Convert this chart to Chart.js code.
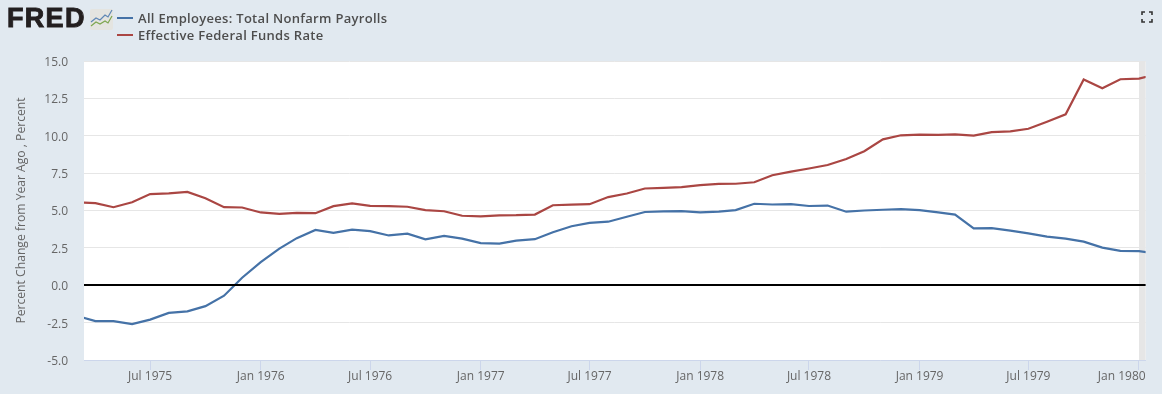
<!DOCTYPE html>
<html><head><meta charset="utf-8">
<script src="https://cdn.jsdelivr.net/npm/chart.js@4/dist/chart.umd.min.js"></script>
<style>
html,body{margin:0;padding:0;background:#e1e9f0;width:1162px;height:394px;overflow:hidden;font-family:"Open Sans",sans-serif}
#w{position:absolute;left:0;top:0;width:1162px;height:394px}
#logo{position:absolute;left:7px;top:3px;font:900 27px/31px "Liberation Sans",Arial,sans-serif;color:#231f20;letter-spacing:1.3px;-webkit-text-stroke:.9px #231f20}
#mini{position:absolute;left:90px;top:9px}
#fs{position:absolute;left:1141px;top:11px}
#legend{position:absolute;left:117px;top:10px;font:600 13px/17px "Open Sans",sans-serif;letter-spacing:.3px;color:#4d4d4d;white-space:nowrap}
#legend div{height:17px;position:relative;padding-left:21px}
#legend i{position:absolute;left:0;top:7px;width:16px;height:2px}
</style></head><body>
<div id="w"><canvas id="c" width="1162" height="394"></canvas></div>
<div id="logo">FRED</div>
<svg id="mini" width="23" height="21"><rect width="23" height="21" rx="2" fill="#e4e4e0"/><polyline points="1,13 6,9 10,11 15,6 18,8 22,1" fill="none" stroke="#5f87b5" stroke-width="1.2"/><polyline points="1,17 6,13 10,15 15,12 18,14 22,7" fill="none" stroke="#7da64f" stroke-width="1.2"/></svg>
<div id="legend"></div>
<svg id="fs" width="12" height="12" fill="none" stroke="#333" stroke-width="1.6"><path d="M1 4V1H4M8 1H11V4M11 8V11H8M4 11H1V8"/></svg>
<script>
const months=["1975-03","1975-04","1975-05","1975-06","1975-07","1975-08","1975-09","1975-10","1975-11","1975-12",
"1976-01","1976-02","1976-03","1976-04","1976-05","1976-06","1976-07","1976-08","1976-09","1976-10","1976-11","1976-12",
"1977-01","1977-02","1977-03","1977-04","1977-05","1977-06","1977-07","1977-08","1977-09","1977-10","1977-11","1977-12",
"1978-01","1978-02","1978-03","1978-04","1978-05","1978-06","1978-07","1978-08","1978-09","1978-10","1978-11","1978-12",
"1979-01","1979-02","1979-03","1979-04","1979-05","1979-06","1979-07","1979-08","1979-09","1979-10","1979-11","1979-12",
"1980-01","1980-02"];
const payrolls=[-2.05,-2.4,-2.4,-2.6,-2.3,-1.85,-1.75,-1.4,-0.7,0.5,
1.55,2.45,3.15,3.7,3.5,3.72,3.62,3.33,3.45,3.07,3.3,3.12,
2.82,2.78,2.98,3.08,3.55,3.95,4.17,4.25,4.58,4.9,4.94,4.96,
4.87,4.92,5.03,5.45,5.4,5.43,5.3,5.33,4.92,5.0,5.05,5.09,
5.02,4.88,4.73,3.8,3.82,3.65,3.47,3.25,3.12,2.92,2.52,2.3,
2.28,2.1];
const fedFunds=[5.55,5.49,5.22,5.55,6.1,6.14,6.24,5.82,5.22,5.2,
4.87,4.77,4.84,4.82,5.29,5.48,5.31,5.29,5.25,5.02,4.95,4.65,
4.61,4.68,4.69,4.73,5.35,5.39,5.42,5.9,6.14,6.47,6.51,6.56,
6.7,6.78,6.79,6.89,7.36,7.6,7.81,8.04,8.45,8.96,9.76,10.03,
10.07,10.06,10.09,10.01,10.24,10.29,10.47,10.94,11.43,13.77,13.18,13.78,
13.82,14.13];
const xTickLabels=["Jul 1975","Jan 1976","Jul 1976","Jan 1977","Jul 1977","Jan 1978","Jul 1978","Jan 1979","Jul 1979","Jan 1980"];
const xTickMonths=["1975-07","1976-01","1976-07","1977-01","1977-07","1978-01","1978-07","1979-01","1979-07","1980-01"];
const yTicks=[-5,-2.5,0,2.5,5,7.5,10,12.5,15];
const recessionStart="1980-01";
const xStart="1975-03-13", xEnd="1980-01-12";
const legendNames=["All Employees: Total Nonfarm Payrolls","Effective Federal Funds Rate"];
const colors=["#4572a7","#aa4643"];
document.getElementById('legend').innerHTML=legendNames.map((n,i)=>`<div><i style="background:${colors[i]}"></i>${n}</div>`).join('');
const t=s=>Date.parse(s.length===7?s+"-01T00:00:00Z":s+"T00:00:00Z");
const pts=a=>a.map((v,i)=>({x:t(months[i]),y:v}));
const band={id:'band',beforeDatasetsDraw(c){const {ctx,chartArea:a,scales:{x}}=c;ctx.save();ctx.fillStyle='#e6e6e6';
 const l=x.getPixelForValue(t(recessionStart));ctx.fillRect(l,a.top,a.right-l,a.bottom-a.top);ctx.restore();},
 afterDatasetsDraw(c){const {ctx,chartArea:a,scales:{y}}=c;ctx.save();ctx.strokeStyle='#000';ctx.lineWidth=2;const p=Math.round(y.getPixelForValue(0));ctx.beginPath();ctx.moveTo(a.left,p);ctx.lineTo(a.right,p);ctx.stroke();ctx.restore();}};
const bg={id:'bg',beforeDraw(c){const {ctx,chartArea:a,scales:{x,y}}=c;ctx.fillStyle='#fff';ctx.fillRect(a.left,a.top,a.width,a.height);
 const items=x.getLabelItems(a),last=items[items.length-1];
 if(last){last.options.textAlign='right';last.options.translation[0]=a.right;}
 y.getLabelItems(a).forEach(it=>{it.options.translation[1]+=1.5;});}};
new Chart(document.getElementById('c'),{type:'line',
 data:{datasets:[{label:legendNames[0],data:pts(payrolls),borderColor:colors[0],borderWidth:2.2,pointRadius:0,tension:0},
 {label:legendNames[1],data:pts(fedFunds),borderColor:colors[1],borderWidth:2.2,pointRadius:0,tension:0}]},
 plugins:[bg,band],
 options:{responsive:false,animation:false,
  layout:{padding:{top:61,left:0,right:16,bottom:0}},
  plugins:{tooltip:{enabled:false},legend:{display:false}},
  scales:{
   x:{type:'linear',min:t(xStart),max:t(xEnd),
    afterBuildTicks(s){s.ticks=xTickMonths.map(m=>({value:t(m)}));},
    afterFit(s){s.height=34;},
    grid:{drawOnChartArea:false,drawTicks:true,tickLength:10,color:'#ccd6eb'},
    border:{color:'#ccd6eb',width:1},
    ticks:{maxRotation:0,autoSkip:false,padding:-1,color:'#666',font:{family:'"Open Sans"',size:12},
     callback(v){const i=xTickMonths.findIndex(m=>t(m)===v);return i<0?'':xTickLabels[i];}}},
   y:{min:-5,max:15,
    afterBuildTicks(s){s.ticks=yTicks.map(v=>({value:v}));},
    afterFit(s){s.width=84;},
    grid:{color:'#e6e6e6',drawTicks:false},border:{display:false},
    title:{display:true,text:'Percent Change from Year Ago , Percent',color:'#666',font:{family:'"Open Sans"',size:12.15},padding:{top:14,bottom:2}},
    ticks:{padding:16,color:'#666',font:{family:'"Open Sans"',size:12},callback:v=>v.toFixed(1)}}
  }}});
</script></body></html>
